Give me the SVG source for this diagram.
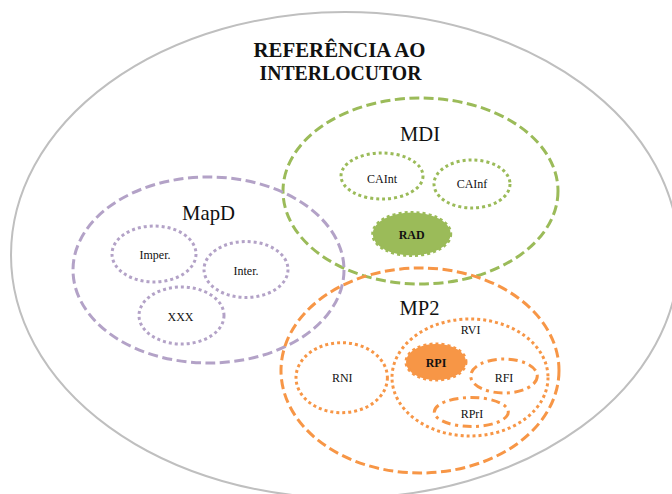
<svg xmlns="http://www.w3.org/2000/svg" width="672" height="494" viewBox="0 0 672 494" font-family="'Liberation Serif', 'DejaVu Serif', serif">
<style>
text{fill:#111;text-anchor:middle}
.big{font-size:22px}
.sm{font-size:12px}
.b{font-weight:bold}
.title{font-size:20px;font-weight:bold}
.dash{fill:none;stroke-width:3;stroke-dasharray:10 4.5}
.dot{fill:none;stroke-width:3;stroke-dasharray:3 3}
.dd{fill:none;stroke-width:3;stroke-dasharray:9 4.5 3 4.5}
.g{stroke:#9bbb59}
.p{stroke:#b3a2c7}
.o{stroke:#f79646}
</style>
<rect width="672" height="494" fill="#fff"/>
<g id="outer">
<ellipse cx="345" cy="255" rx="334" ry="243" fill="none" stroke="#bfbfbf" stroke-width="2"/>
<text class="title" x="339.5" y="57" textLength="172" lengthAdjust="spacingAndGlyphs">REFERÊNCIA AO</text>
<text class="title" x="340.5" y="79.5" textLength="162" lengthAdjust="spacingAndGlyphs">INTERLOCUTOR</text>
</g>
<g id="MDI">
<ellipse class="dash g" cx="420.5" cy="191" rx="137.5" ry="93"/>
<text class="big" x="420" y="141" textLength="40" lengthAdjust="spacingAndGlyphs">MDI</text>
</g>
<g id="CAInt">
<ellipse class="dot g" cx="382" cy="176" rx="41" ry="23"/>
<text class="sm" x="382" y="183">CAInt</text>
</g>
<g id="CAInf">
<ellipse class="dot g" cx="472" cy="184" rx="38" ry="24"/>
<text class="sm" x="472" y="187.5">CAInf</text>
</g>
<g id="RAD">
<ellipse class="dot g" cx="411.7" cy="234" rx="39" ry="21.5" style="fill:#9bbb59"/>
<text class="sm b" x="411.7" y="238.5">RAD</text>
</g>
<g id="MapD">
<ellipse class="dash p" cx="208.5" cy="270" rx="135.5" ry="93"/>
<text class="big" x="208.5" y="220" textLength="53" lengthAdjust="spacingAndGlyphs">MapD</text>
</g>
<g id="Imper">
<ellipse class="dot p" cx="154" cy="254" rx="42" ry="28"/>
<text class="sm" x="155" y="259">Imper.</text>
</g>
<g id="Inter">
<ellipse class="dot p" cx="246" cy="269.5" rx="42" ry="28"/>
<text class="sm" x="246" y="275">Inter.</text>
</g>
<g id="XXX">
<ellipse class="dot p" cx="181.5" cy="315.5" rx="42.5" ry="28.5"/>
<text class="sm" x="180.5" y="321">XXX</text>
</g>
<g id="MP2">
<ellipse class="dash o" cx="420" cy="370.5" rx="139" ry="102.5"/>
<text class="big" x="419.5" y="315" textLength="40" lengthAdjust="spacingAndGlyphs">MP2</text>
</g>
<g id="RNI">
<ellipse class="dot o" cx="341.7" cy="377.7" rx="45.7" ry="35"/>
<text class="sm" x="342.3" y="381.5">RNI</text>
</g>
<g id="RVI">
<ellipse class="dot o" cx="470" cy="377.5" rx="78" ry="58.5"/>
<text class="sm" x="470.7" y="333.5">RVI</text>
</g>
<g id="RPI">
<ellipse class="dot o" cx="436" cy="362" rx="30" ry="18" style="fill:#f79646"/>
<text class="sm b" x="436" y="366.5">RPI</text>
</g>
<g id="RFI">
<ellipse class="dd o" cx="504" cy="376" rx="33.3" ry="17"/>
<text class="sm" x="504" y="381.5">RFI</text>
</g>
<g id="RPrI">
<ellipse class="dd o" cx="471.3" cy="412" rx="37" ry="14.5"/>
<text class="sm" x="472" y="417.5">RPrI</text>
</g>
</svg>
